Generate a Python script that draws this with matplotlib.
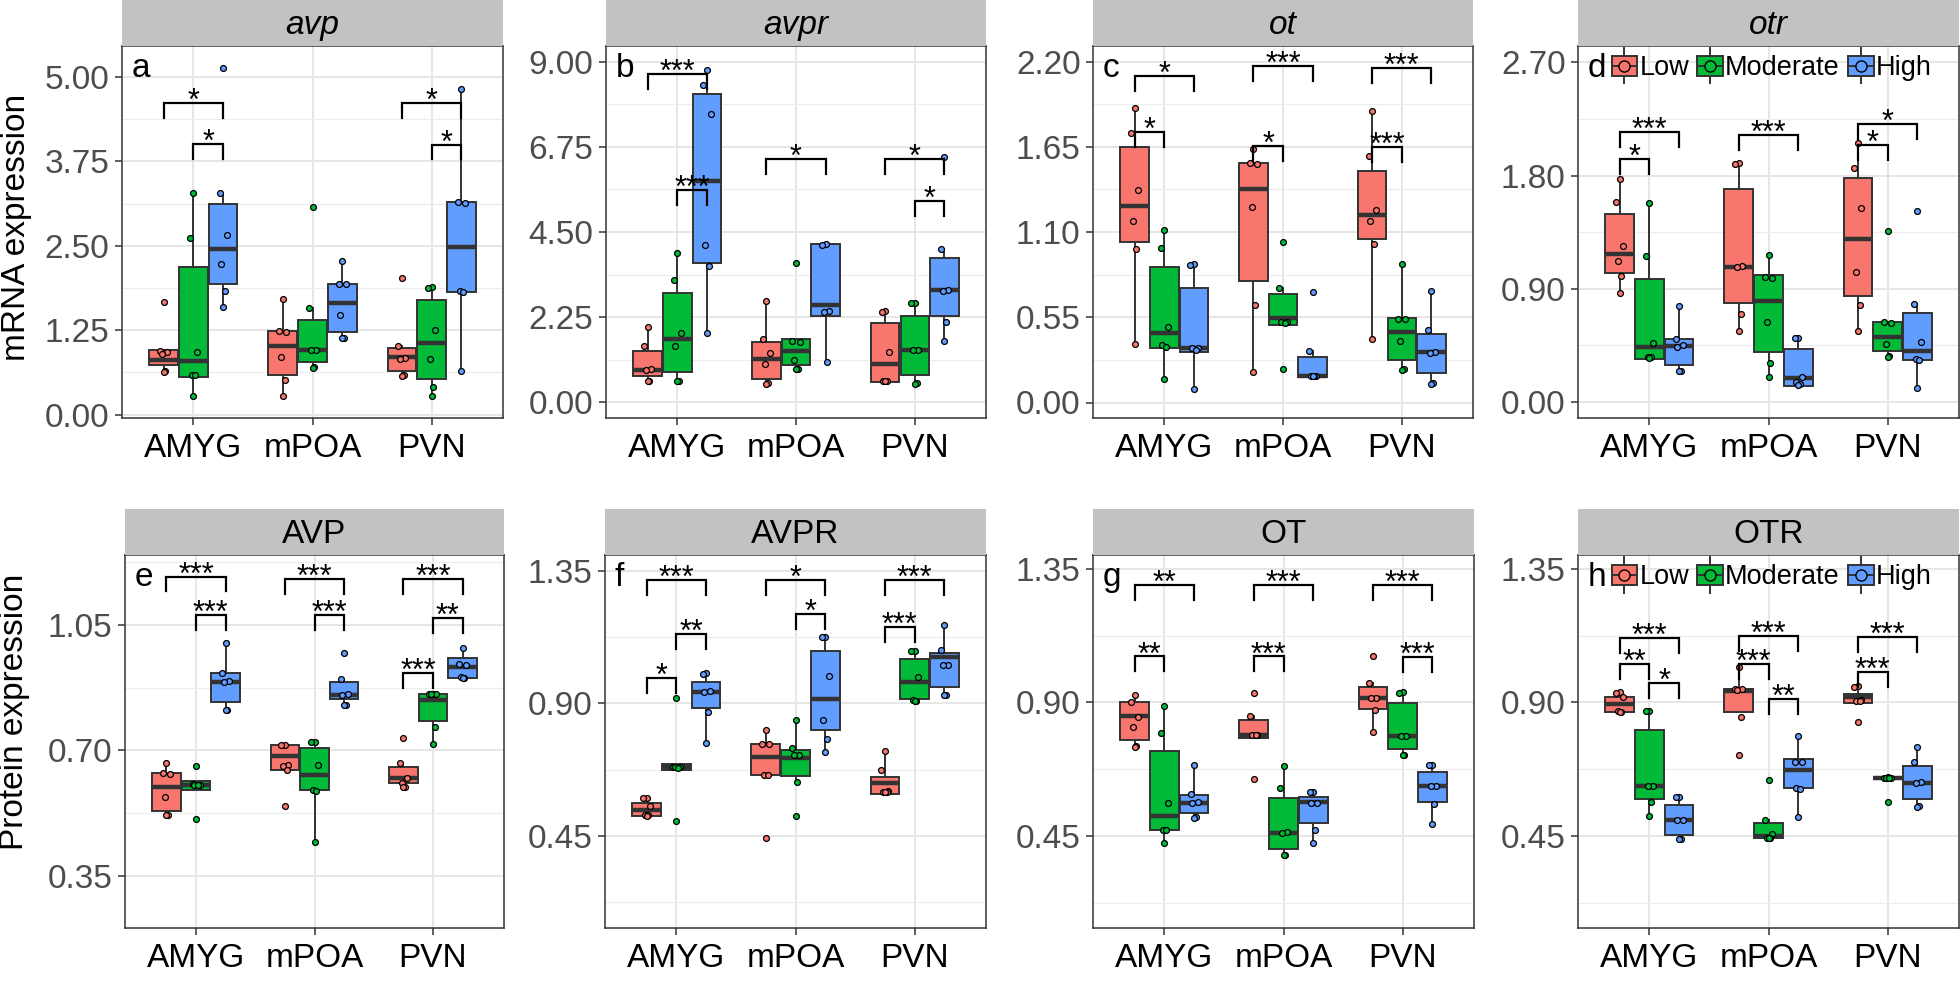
import matplotlib.pyplot as plt
import numpy as np
from matplotlib.patches import Patch, Rectangle
from matplotlib.lines import Line2D
from matplotlib.legend_handler import HandlerBase
from matplotlib.ticker import FixedLocator, MultipleLocator, FormatStrFormatter

plt.rcParams['font.family'] = ['Liberation Sans', 'DejaVu Sans']

regions = ['AMYG', 'mPOA', 'PVN']
groups = ['Low', 'Moderate', 'High']
colors = ['#F8766D', '#00BA38', '#619CFF']

# box stats (whislo, q1, med, q3, whishi); order AMYG L/M/H, mPOA L/M/H, PVN L/M/H
avp_box = [(0.64, 0.73, 0.81, 0.96, 0.96), (0.27, 0.55, 0.80, 2.19, 3.28), (1.60, 1.94, 2.45, 3.12, 3.28),
           (0.27, 0.59, 1.01, 1.24, 1.71), (0.70, 0.78, 0.96, 1.40, 1.58), (1.13, 1.23, 1.66, 1.94, 2.28),
           (0.58, 0.65, 0.86, 0.98, 1.02), (0.27, 0.53, 1.06, 1.70, 1.89), (0.64, 1.82, 2.49, 3.15, 4.83)]
avp_pts = [[1.67, 0.94, 0.93, 0.90, 0.64, 0.63], [3.28, 2.61, 0.93, 0.59, 0.58, 0.27], [5.13, 3.28, 2.66, 2.23, 1.83, 1.60],
           [1.71, 1.24, 1.23, 0.85, 0.52, 0.27], [3.07, 1.58, 0.96, 0.95, 0.70, 0.69], [2.28, 1.94, 1.93, 1.47, 1.14, 1.13],
           [2.03, 1.02, 0.84, 0.83, 0.58, 0.57], [1.89, 1.88, 1.25, 0.82, 0.41, 0.27], [4.83, 3.15, 3.14, 1.83, 1.82, 0.64]]
avp_sig = [(0, 0, 2, 4.61, '*'), (0, 1, 2, 4.01, '*'), (2, 0, 2, 4.61, '*'), (2, 1, 2, 4.00, '*')]

avpr_box = [(0.55, 0.68, 0.86, 1.36, 2.00), (0.56, 0.81, 1.68, 2.89, 3.95), (1.84, 3.68, 5.84, 8.16, 8.78),
            (0.49, 0.61, 1.15, 1.59, 2.67), (0.87, 0.97, 1.34, 1.68, 1.68), (1.06, 2.29, 2.58, 4.17, 4.17),
            (0.52, 0.52, 1.01, 2.09, 2.40), (0.49, 0.71, 1.37, 2.29, 2.62), (1.61, 2.29, 2.96, 3.81, 4.05)]
avpr_pts = [[2.00, 1.49, 0.87, 0.86, 0.56, 0.55], [3.95, 3.24, 1.84, 1.48, 0.57, 0.56], [8.78, 8.40, 7.61, 4.15, 3.59, 1.84],
            [2.67, 1.67, 1.30, 1.00, 0.50, 0.49], [3.68, 1.61, 1.60, 1.12, 0.88, 0.87], [4.17, 4.16, 2.40, 2.39, 1.06],
            [2.40, 2.39, 1.33, 0.56, 0.55, 0.55], [2.62, 2.61, 1.38, 1.37, 0.50, 0.49], [6.49, 4.05, 2.96, 2.95, 2.12, 1.61]]
avpr_sig = [(0, 0, 2, 8.67, '***'), (0, 1, 2, 5.62, '***'), (1, 0, 2, 6.42, '*'), (2, 0, 2, 6.42, '*'), (2, 1, 2, 5.33, '*')]

ot_box = [(0.375, 1.035, 1.27, 1.648, 1.90), (0.15, 0.35, 0.447, 0.874, 1.115), (0.084, 0.328, 0.35, 0.738, 0.893),
          (0.198, 0.781, 1.38, 1.547, 1.637), (0.50, 0.50, 0.544, 0.70, 0.738), (0.166, 0.166, 0.17, 0.296, 0.33),
          (0.41, 1.057, 1.212, 1.493, 1.88), (0.213, 0.274, 0.453, 0.544, 0.893), (0.123, 0.192, 0.324, 0.442, 0.72)]
ot_pts = [[1.90, 1.74, 1.37, 1.17, 0.99, 0.375], [1.115, 1.00, 0.49, 0.37, 0.36, 0.15], [0.893, 0.89, 0.35, 0.35, 0.34, 0.084],
          [1.637, 1.547, 1.54, 1.26, 0.63, 0.198], [1.035, 0.738, 0.52, 0.52, 0.51, 0.213], [0.716, 0.33, 0.17, 0.17, 0.17, 0.17],
          [1.88, 1.59, 1.24, 1.17, 1.02, 0.41], [0.893, 0.54, 0.54, 0.40, 0.213, 0.21], [0.72, 0.47, 0.324, 0.32, 0.123, 0.12]]
ot_sig = [(0, 0, 2, 2.107, '*'), (0, 0, 1, 1.745, '*'), (1, 0, 2, 2.17, '***'), (1, 0, 1, 1.654, '*'),
          (2, 0, 2, 2.16, '***'), (2, 0, 1, 1.648, '***')]

otr_box = [(0.866, 1.024, 1.175, 1.495, 1.773), (0.344, 0.344, 0.434, 0.977, 1.585), (0.25, 0.291, 0.442, 0.503, 0.765),
           (0.566, 0.791, 1.077, 1.694, 1.898), (0.196, 0.394, 0.805, 1.011, 1.17), (0.124, 0.124, 0.19, 0.42, 0.508),
           (0.561, 0.839, 1.294, 1.779, 2.057), (0.363, 0.408, 0.52, 0.635, 0.635), (0.111, 0.336, 0.402, 0.707, 0.778)]
otr_pts = [[1.773, 1.587, 1.244, 1.119, 1.00, 0.866], [1.585, 1.16, 0.47, 0.36, 0.355, 0.35], [0.765, 0.50, 0.45, 0.44, 0.25, 0.245],
           [1.898, 1.895, 1.08, 1.075, 0.70, 0.566], [1.17, 0.99, 0.985, 0.64, 0.31, 0.196], [0.508, 0.505, 0.20, 0.16, 0.14, 0.135],
           [2.057, 1.86, 1.54, 1.03, 0.77, 0.561], [1.36, 0.635, 0.63, 0.46, 0.363, 0.36], [1.52, 0.778, 0.48, 0.34, 0.335, 0.111]]
otr_sig = [(0, 0, 2, 2.149, '***'), (0, 0, 1, 1.93, '*'), (1, 0, 2, 2.123, '***'), (2, 0, 2, 2.21, '*'), (2, 0, 1, 2.04, '*')]

AVP_box = [(0.519, 0.531, 0.599, 0.636, 0.666), (0.589, 0.589, 0.605, 0.614, 0.614), (0.813, 0.834, 0.892, 0.915, 0.999),
           (0.645, 0.645, 0.684, 0.715, 0.715), (0.445, 0.589, 0.631, 0.706, 0.724), (0.827, 0.843, 0.856, 0.892, 0.899),
           (0.597, 0.61, 0.622, 0.654, 0.666), (0.717, 0.782, 0.84, 0.858, 0.858), (0.903, 0.903, 0.932, 0.957, 0.987)]
AVP_pts = [[0.666, 0.636, 0.635, 0.571, 0.52, 0.519], [0.656, 0.606, 0.605, 0.605, 0.604, 0.508], [0.999, 0.915, 0.893, 0.892, 0.814, 0.813],
           [0.715, 0.714, 0.659, 0.658, 0.645, 0.545], [0.724, 0.723, 0.66, 0.589, 0.588, 0.445], [0.971, 0.899, 0.857, 0.856, 0.828, 0.827],
           [0.736, 0.666, 0.622, 0.61, 0.598, 0.597], [0.858, 0.858, 0.857, 0.857, 0.766, 0.717], [0.987, 0.94, 0.939, 0.904, 0.903, 0.903]]
AVP_sig = [(0, 0, 2, 1.185, '***'), (0, 1, 2, 1.078, '***'), (1, 0, 2, 1.178, '***'), (1, 1, 2, 1.078, '***'),
           (2, 0, 2, 1.178, '***'), (2, 1, 2, 1.069, '**'), (2, 0, 1, 0.917, '***')]

AVPR_box = [(0.516, 0.516, 0.538, 0.561, 0.578), (0.674, 0.674, 0.683, 0.693, 0.693), (0.764, 0.885, 0.940, 0.973, 1.002),
            (0.657, 0.657, 0.717, 0.762, 0.81), (0.634, 0.653, 0.713, 0.742, 0.843), (0.736, 0.81, 0.914, 1.077, 1.126),
            (0.591, 0.591, 0.629, 0.651, 0.738), (0.909, 0.915, 0.971, 1.05, 1.079), (0.928, 0.954, 1.058, 1.07, 1.166)]
AVPR_pts = [[0.578, 0.577, 0.55, 0.521, 0.52, 0.519], [0.917, 0.684, 0.683, 0.683, 0.682, 0.499], [1.002, 1.001, 0.941, 0.94, 0.872, 0.764],
            [0.81, 0.762, 0.761, 0.658, 0.657, 0.442], [0.843, 0.75, 0.726, 0.725, 0.634, 0.519], [1.126, 1.125, 0.994, 0.845, 0.78, 0.736],
            [0.738, 0.675, 0.601, 0.60, 0.599, 0.598], [1.079, 1.078, 0.99, 0.91, 0.909, 0.908], [1.166, 1.08, 1.031, 1.03, 0.929, 0.928]]
AVPR_sig = [(0, 0, 2, 1.32, '***'), (0, 1, 2, 1.137, '**'), (0, 0, 1, 0.987, '*'), (1, 0, 2, 1.32, '*'),
            (1, 1, 2, 1.205, '*'), (2, 0, 2, 1.32, '***'), (2, 0, 1, 1.16, '***')]

OT_box = [(0.751, 0.774, 0.853, 0.903, 0.926), (0.428, 0.47, 0.517, 0.738, 0.887), (0.512, 0.527, 0.562, 0.588, 0.69),
          (0.78, 0.78, 0.79, 0.841, 0.853), (0.386, 0.405, 0.461, 0.577, 0.686), (0.428, 0.493, 0.566, 0.583, 0.60),
          (0.802, 0.877, 0.915, 0.952, 0.965), (0.723, 0.743, 0.787, 0.898, 0.934), (0.489, 0.564, 0.617, 0.667, 0.69)]
OT_pts = [[0.926, 0.90, 0.85, 0.819, 0.752, 0.751], [0.887, 0.797, 0.562, 0.471, 0.47, 0.428], [0.69, 0.59, 0.563, 0.562, 0.513, 0.512],
          [0.932, 0.853, 0.791, 0.79, 0.789, 0.642], [0.686, 0.611, 0.462, 0.461, 0.387, 0.386], [0.60, 0.599, 0.561, 0.56, 0.47, 0.428],
          [1.055, 0.965, 0.916, 0.915, 0.875, 0.802], [0.934, 0.933, 0.788, 0.787, 0.724, 0.723], [0.69, 0.689, 0.62, 0.619, 0.558, 0.489]]
OT_sig = [(0, 0, 2, 1.297, '**'), (0, 0, 1, 1.055, '**'), (1, 0, 2, 1.297, '***'), (1, 0, 1, 1.055, '***'),
          (2, 0, 2, 1.297, '***'), (2, 1, 2, 1.052, '***')]

OTR_box = [(0.867, 0.867, 0.895, 0.917, 0.934), (0.519, 0.574, 0.617, 0.808, 0.872), (0.439, 0.453, 0.504, 0.555, 0.583),
           (0.869, 0.869, 0.94, 0.945, 1.019), (0.443, 0.443, 0.449, 0.493, 0.504), (0.515, 0.611, 0.673, 0.709, 0.788),
           (0.897, 0.897, 0.918, 0.929, 0.954), (0.647, 0.647, 0.647, 0.647, 0.647), (0.549, 0.574, 0.63, 0.686, 0.751)]
OTR_pts = [[0.934, 0.933, 0.92, 0.87, 0.869, 0.868], [0.872, 0.871, 0.62, 0.619, 0.563, 0.519], [0.583, 0.582, 0.505, 0.504, 0.44, 0.439],
           [1.019, 0.945, 0.944, 0.943, 0.85, 0.723], [0.639, 0.504, 0.456, 0.444, 0.443, 0.442], [0.788, 0.70, 0.699, 0.611, 0.61, 0.515],
           [0.954, 0.953, 0.907, 0.906, 0.905, 0.833], [0.648, 0.647, 0.647, 0.646, 0.646, 0.566], [0.751, 0.699, 0.631, 0.63, 0.55, 0.549]]
OTR_sig = [(0, 0, 2, 1.117, '***'), (0, 0, 1, 1.029, '**'), (0, 1, 2, 0.965, '*'), (1, 0, 2, 1.123, '***'),
           (1, 0, 1, 1.029, '***'), (1, 1, 2, 0.911, '**'), (2, 0, 2, 1.12, '***'), (2, 0, 1, 1.004, '***')]

panel_names = ['avp', 'avpr', 'ot', 'otr', 'AVP', 'AVPR', 'OT', 'OTR']
panel_letters = ['a', 'b', 'c', 'd', 'e', 'f', 'g', 'h']
panel_boxes = [avp_box, avpr_box, ot_box, otr_box, AVP_box, AVPR_box, OT_box, OTR_box]
panel_pts = [avp_pts, avpr_pts, ot_pts, otr_pts, AVP_pts, AVPR_pts, OT_pts, OTR_pts]
panel_sigs = [avp_sig, avpr_sig, ot_sig, otr_sig, AVP_sig, AVPR_sig, OT_sig, OTR_sig]
panel_ylims = [(-0.05, 5.46), (-0.42, 9.42), (-0.10, 2.30), (-0.127, 2.83),
               (0.205, 1.245), (0.137, 1.404), (0.14, 1.397), (0.14, 1.397)]
panel_yticks = [[0, 1.25, 2.5, 3.75, 5.0], [0, 2.25, 4.5, 6.75, 9.0], [0, 0.55, 1.1, 1.65, 2.2], [0, 0.9, 1.8, 2.7],
                [0.35, 0.70, 1.05], [0.45, 0.90, 1.35], [0.45, 0.90, 1.35], [0.45, 0.90, 1.35]]

dark = '#333333'


class BoxKey(HandlerBase):
    # ggplot-like legend key: box + whisker + median + point
    def create_artists(self, legend, orig_handle, xdescent, ydescent, width, height, fontsize, trans):
        c = orig_handle.get_facecolor()
        x0, y0 = -xdescent, -ydescent
        cx, cy = x0 + width / 2, y0 + height / 2
        whisk = Line2D([cx, cx], [y0 - 0.35 * height, y0 + 1.35 * height], color=dark, lw=1.4)
        rect = Rectangle((x0, y0), width, height, facecolor=c, edgecolor=dark, lw=1.4)
        med = Line2D([x0, x0 + width], [cy, cy], color=dark, lw=1.4)
        dot = Line2D([cx], [cy], marker='o', ms=8, mfc=c, mec='black', mew=1.0, linestyle='None')
        arts = [whisk, rect, med, dot]
        for a in arts:
            a.set_transform(trans)
        return arts


W, H = 1960, 981
fig = plt.figure(figsize=(W / 100, H / 100), dpi=100)

# pixel layout of the panels
lefts = [122, 606, 1093, 1578, 125, 605, 1093, 1578]
rights = [503, 986, 1473, 1959, 504, 986, 1474, 1959]
tops = [46, 46, 46, 46, 555, 555, 555, 555]
bottoms = [418, 418, 418, 418, 928, 928, 928, 928]
strip_h = 46

jit = np.array([0.0, -0.03, 0.03, -0.015, 0.015, 0.0])

for p in range(8):
    l, r, t, b = lefts[p], rights[p], tops[p], bottoms[p]
    ax = fig.add_axes([l / W, 1 - b / H, (r - l) / W, (b - t) / H])
    sax = fig.add_axes([l / W, 1 - t / H, (r - l) / W, strip_h / H])
    sax.set_facecolor('#C2C2C2')
    sax.set_xticks([])
    sax.set_yticks([])
    for s in sax.spines.values():
        s.set_visible(False)
    sax.text(0.5, 0.45, panel_names[p], ha='center', va='center', fontsize=24,
             style='italic' if p < 4 else 'normal', transform=sax.transAxes)

    stats, pos = [], []
    for ri in range(3):
        for g in range(3):
            lo, q1, med, q3, hi = panel_boxes[p][ri * 3 + g]
            stats.append(dict(whislo=lo, q1=q1, med=med, q3=q3, whishi=hi))
            pos.append(ri + 1 + (g - 1) * 0.25)
    bp = ax.bxp(stats, positions=pos, widths=0.24, patch_artist=True, showfliers=False, showcaps=False,
                boxprops=dict(edgecolor=dark, linewidth=1.4),
                medianprops=dict(color=dark, linewidth=3.2),
                whiskerprops=dict(color=dark, linewidth=1.4), zorder=2)
    for k, patch in enumerate(bp['boxes']):
        patch.set_facecolor(colors[k % 3])

    for k in range(9):
        vals = np.array(panel_pts[p][k])
        xs = pos[k] + jit[:len(vals)]
        ax.scatter(xs, vals, s=18, facecolor=colors[k % 3], edgecolor='black', linewidth=0.9, zorder=3)

    y0, y1 = panel_ylims[p]
    drop = 0.04 * (y1 - y0)
    for ri, g1, g2, yv, lab in panel_sigs[p]:
        xa = ri + 1 + (g1 - 1) * 0.25
        xb = ri + 1 + (g2 - 1) * 0.25
        ax.plot([xa, xa, xb, xb], [yv - drop, yv, yv, yv - drop], color='black', lw=1.6,
                solid_joinstyle='miter', zorder=4)
        ax.annotate(lab, xy=((xa + xb) / 2, yv), xytext=(0, -5), textcoords='offset points',
                    ha='center', va='baseline', fontsize=22, zorder=5)

    ax.set_xlim(0.4, 3.6)
    ax.set_ylim(y0, y1)
    ax.set_xticks([1, 2, 3])
    ax.set_xticklabels(regions)
    ax.yaxis.set_major_locator(FixedLocator(panel_yticks[p]))
    step = panel_yticks[p][1] - panel_yticks[p][0]
    ax.yaxis.set_minor_locator(MultipleLocator(step / 2))
    ax.yaxis.set_major_formatter(FormatStrFormatter('%.2f'))
    ax.tick_params(axis='both', which='major', length=5, width=1.1, color=dark, labelsize=24)
    ax.tick_params(axis='y', which='major', labelcolor='#4D4D4D', pad=4)
    ax.tick_params(axis='x', which='major', labelcolor='black', pad=6)
    ax.tick_params(axis='y', which='minor', length=0)
    ax.set_axisbelow(True)
    ax.grid(which='major', color='#E6E6E6', lw=1.4)
    ax.grid(which='minor', axis='y', color='#EDEDED', lw=0.9)
    for s in ax.spines.values():
        s.set_color(dark)
        s.set_linewidth(1.1)

    ax.text(0.025, 0.94, panel_letters[p], transform=ax.transAxes, ha='left', va='center', fontsize=24, zorder=6)

    if p in (3, 7):
        handles = [Patch(facecolor=c) for c in colors]
        ax.legend(handles, groups, handler_map={Patch: BoxKey()}, loc='upper left',
                  bbox_to_anchor=(0.088, 0.975), ncol=3, frameon=False, fontsize=19.5, handlelength=0.95,
                  handleheight=0.8, handletextpad=0.08, columnspacing=0.3, borderpad=0.0, borderaxespad=0)

fig.text(17 / W, 1 - 227 / H, 'mRNA expression', rotation=90, ha='center', va='center', fontsize=24)
fig.text(15 / W, 1 - 712 / H, 'Protein expression', rotation=90, ha='center', va='center', fontsize=24)

fig.savefig('out.png', dpi=100)
